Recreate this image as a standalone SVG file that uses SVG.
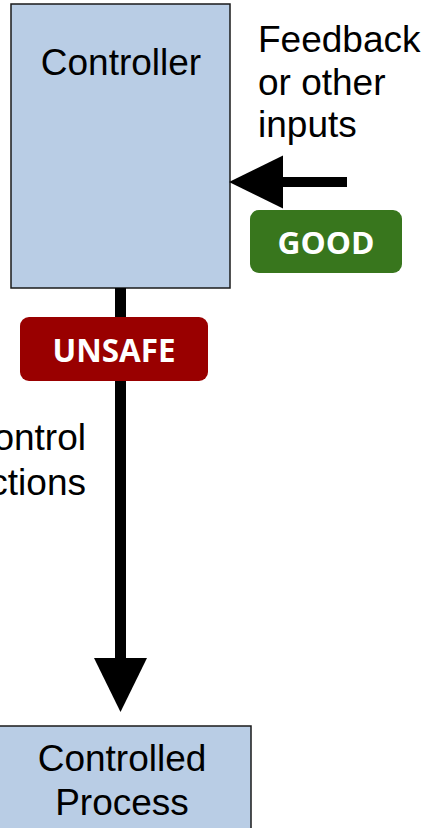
<svg xmlns="http://www.w3.org/2000/svg" width="430" height="828" viewBox="0 0 430 828">
<style>
.box{fill:#b9cde5;stroke:#1a1a1a;stroke-width:1.5}
.lbl{font-family:"Liberation Sans",Arial,sans-serif;font-size:37px;fill:#000}
.badge{font-family:"Open Sans","Noto Sans",sans-serif;font-weight:bold;fill:#fff}
.conn{stroke:#000;fill:none}
</style>
<defs>
<marker id="head" markerUnits="userSpaceOnUse" markerWidth="54" markerHeight="54" refX="0" refY="26.5" orient="auto" viewBox="0 0 54 54">
<path d="M0,0 L54,26.5 L0,53 z" fill="#000"/>
</marker>
</defs>
<rect width="430" height="828" fill="#fff"/>
<g id="controller">
<rect class="box" x="11" y="4" width="219" height="284"/>
<text class="lbl" x="121" y="75" text-anchor="middle">Controller</text>
</g>
<g id="controlled-process">
<rect class="box" x="-5" y="726" width="256" height="110"/>
<text class="lbl" x="122" y="771" text-anchor="middle">Controlled</text>
<text class="lbl" x="122" y="815" text-anchor="middle">Process</text>
</g>
<g id="connectors">
<line class="conn" x1="120.5" y1="288" x2="120.5" y2="658" stroke-width="11" marker-end="url(#head)"/>
<line class="conn" x1="347" y1="182" x2="283" y2="182" stroke-width="10" marker-end="url(#head)"/>
</g>
<g id="feedback-label">
<text class="lbl" x="258" y="52">Feedback</text>
<text class="lbl" x="258" y="95">or other</text>
<text class="lbl" x="258" y="137">inputs</text>
</g>
<g id="control-actions-label">
<text class="lbl" x="86" y="450" text-anchor="end">Control</text>
<text class="lbl" x="86" y="495" text-anchor="end">actions</text>
</g>
<g id="good">
<rect x="250" y="210" width="152" height="63" rx="9" fill="#38761d"/>
<text class="badge" x="326" y="254" font-size="31" text-anchor="middle" textLength="97" lengthAdjust="spacingAndGlyphs">GOOD</text>
</g>
<g id="unsafe">
<rect x="20" y="317" width="188" height="64" rx="9" fill="#990000"/>
<text class="badge" x="114" y="362" font-size="33" text-anchor="middle" textLength="123" lengthAdjust="spacingAndGlyphs">UNSAFE</text>
</g>
</svg>
